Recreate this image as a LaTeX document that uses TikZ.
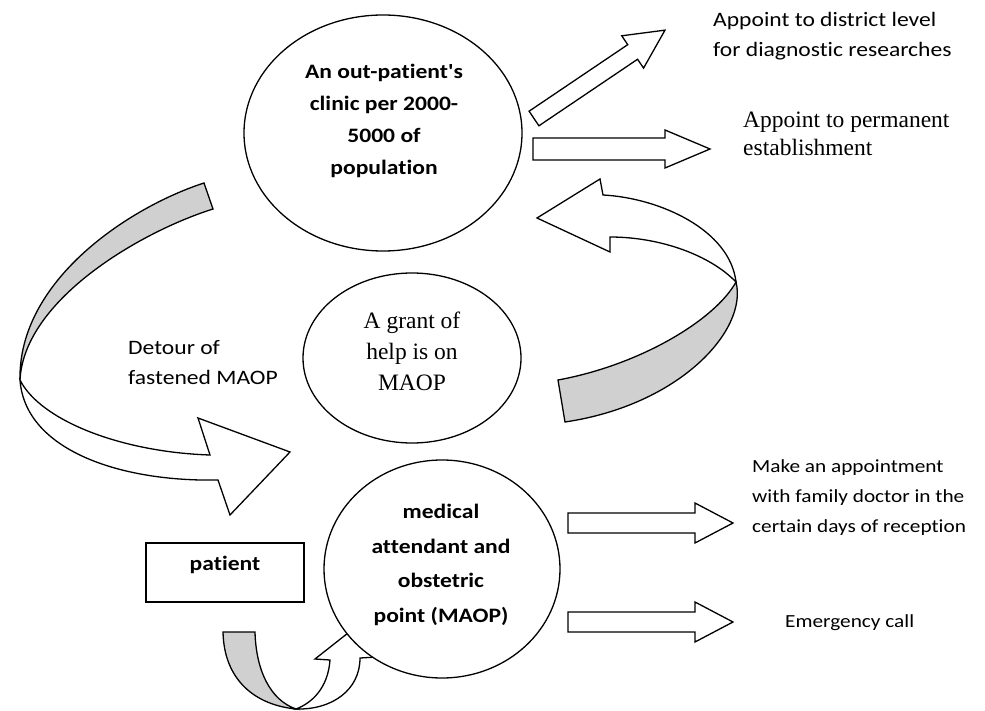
\documentclass[tikz,border=0pt]{standalone}
\usepackage{fontspec}
\usetikzlibrary{shapes.geometric}
\newfontfamily\calfont[FakeStretch=1.15, Ligatures=NoCommon]{Carlito}
\newfontfamily\serfont{Liberation Serif}
\definecolor{ribbongray}{RGB}{208,208,208}
\tikzset{
  outline/.style={draw=black, line width=1.3pt, line join=miter, fill=white},
  backside/.style={draw=black, line width=1.3pt, fill=ribbongray},
  bubble/.style={ellipse, draw=black, line width=1.3pt, fill=white, inner sep=0pt},
  boxed/.style={rectangle, draw=black, line width=1.3pt, fill=white, inner sep=0pt},
  caltext/.style={inner sep=0pt, font=\calfont\fontsize{20.5}{30}\selectfont},
  calsmall/.style={inner sep=0pt, font=\calfont\fontsize{18.5}{30}\selectfont},
  calbold/.style={inner sep=0pt, align=center, font=\calfont\bfseries\fontsize{20.5}{#1}\selectfont},
  sertext/.style={inner sep=0pt, font=\serfont\fontsize{23.5}{#1}\selectfont},
  % straight block arrow: length, half shaft width, head length, half head width
  pics/blockarrow/.style n args={4}{code={
    \draw[outline] (0,-#2) -- ({#1-#3},-#2) -- ({#1-#3},-#4) -- (#1,0)
      -- ({#1-#3},#4) -- ({#1-#3},#2) -- (0,#2) -- cycle;
  }},
}
\begin{document}
\begin{tikzpicture}[x=1pt,y=-1pt]
\useasboundingbox (0,0) rectangle (985,711);

% ribbon arrow on the left: back side, then front with its head
\draw[backside] (204,183) .. controls (130,207) and (18,280) .. (20,380)
  .. controls (24,300) and (140,232) .. (213,209) -- cycle;
\draw[outline] (20,380) .. controls (40,420) and (120,452) .. (210,455)
  -- (198,418) -- (290,452) -- (230,515) -- (218,480)
  .. controls (120,482) and (25,450) .. (20,380) -- cycle;

% ribbon arrow on the right
\draw[backside] (558,380) .. controls (640,365) and (715,320) .. (736,282)
  .. controls (748,330) and (680,405) .. (565,422) -- cycle;
\draw[outline] (736,282) .. controls (730,230) and (660,198) .. (603,195)
  -- (600,179) -- (537,218) -- (610,252) -- (610,237)
  .. controls (660,237) and (710,255) .. (736,282) -- cycle;

% small U-turn arrow from the patient
\draw[backside] (223,632) .. controls (224,680) and (255,705) .. (296,709)
  .. controls (270,700) and (256,670) .. (255,632) -- cycle;
\draw[outline] (296,709) .. controls (312,703) and (328,688) .. (330,660)
  -- (315,659) -- (348,633) -- (377,657) -- (360,658)
  .. controls (360,690) and (332,710) .. (296,709) -- cycle;

% straight block arrows
\pic[rotate=34] at (534,118.5) {blockarrow={158}{8.8}{39}{19.5}};
\pic at (533,149) {blockarrow={177}{11}{45}{19}};
\pic at (568,523) {blockarrow={165}{10}{38}{20}};
\pic at (568,622) {blockarrow={165}{10}{38}{20}};

% ellipses and box
\node[bubble, minimum width=278pt, minimum height=236pt] (clinic) at (383,133) {};
\node[bubble, minimum width=218pt, minimum height=170pt] (grant) at (412,358) {};
\node[bubble, minimum width=236pt, minimum height=218pt] (maop) at (442,569) {};
\node[boxed, minimum width=158pt, minimum height=59pt] (patient) at (225,572.5) {};

% texts
\node[calbold=32] (clinictext) at (384,121) {An out-patient's\\clinic per 2000-\\5000 of\\population};
\node[sertext=31, align=center] (granttext) at (412,351) {A grant of\\help is on\\MAOP};
\node[calbold=34.5] (maoptext) at (441,565) {medical\\attendant and\\obstetric\\point (MAOP)};
\node[calbold=30] (patienttext) at (225,565) {patient};
\node[caltext, align=left, anchor=west] (detour) at (128,362.5) {Detour of\\fastened MAOP};
\node[caltext, align=left, anchor=west] (district) at (713,36) {Appoint to district level\\for diagnostic researches};
\node[sertext=28, align=left, anchor=west] (permanent) at (743,134) {Appoint to permanent\\establishment};
\node[calsmall, align=left, anchor=west] (familydoc) at (752,498) {Make an appointment\\with family doctor in the\\certain days of reception};
\node[calsmall, anchor=west] (emergency) at (785,623) {Emergency call};
\end{tikzpicture}
\end{document}
